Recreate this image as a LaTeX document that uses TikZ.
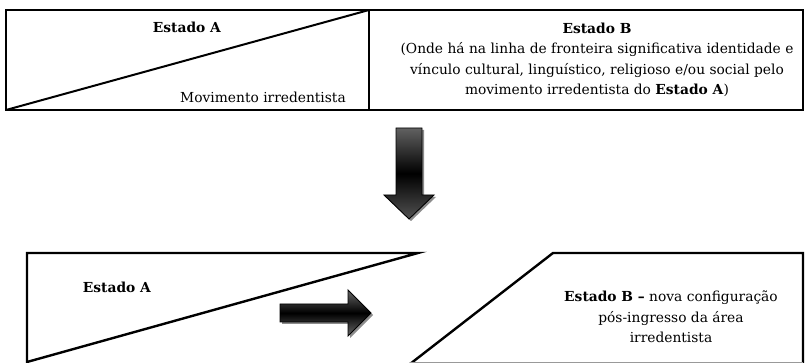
\documentclass[tikz,border=0pt]{standalone}
\usepackage{fontspec}
\setmainfont{DejaVu Serif}
\usepackage{tikz}
\usetikzlibrary{shadows}

\begin{document}
\begin{tikzpicture}[x=1pt,y=-1pt,
		framebox/.style={line width=2.6pt,line join=miter},
		txt/.style={font=\fontsize{13.8}{20.5}\selectfont,align=center,inner sep=0pt},
		fatarrow/.style={draw=black,line width=0.9pt,line join=miter,
			drop shadow={shadow xshift=2pt,shadow yshift=-2pt,fill=black!45,opacity=1}},
	]
	\useasboundingbox (0,0) rectangle (806,363);
	% quadro de cima
	\draw[framebox] (6,10) rectangle (803,110);
	\draw[framebox] (369,10) -- (369,110);
	\draw[line width=2pt] (6,110) -- (369,10);
	\node[txt,anchor=base] (estA) at (187,33) {\textbf{Estado A}};
	\node[txt,anchor=base] (movim) at (263,103) {Movimento irredentista};
	\node[txt,anchor=center] (estB) at (597,60) {\textbf{Estado B}\\
		(Onde há na linha de fronteira significativa identidade e\\
		vínculo cultural, linguístico, religioso e/ou social pelo\\
		movimento irredentista do \textbf{Estado A})};
	% seta para baixo
	\path[fatarrow,top color=black!62,bottom color=black!68,middle color=black]
		(396,128) -- (422,128) -- (422,195) -- (434,195) -- (409,219)
		-- (384,195) -- (396,195) -- cycle;
	% quadro de baixo
	\draw[line width=2.4pt,line join=miter] (27,253) -- (418,253) -- (27,362) -- cycle;
	\draw[line width=2.4pt,line join=miter] (410,364) -- (553,253) -- (803,253) -- (803,364);
	\draw[line width=0.6pt,black!40] (410,362.5) -- (803,362.5);
	\node[txt,anchor=base] (estA2) at (117,293) {\textbf{Estado A}};
	\node[txt,anchor=center] (estB2) at (671,317) {\textbf{Estado B --} nova configuração\\
		pós-ingresso da área\\
		irredentista};
	% seta para a direita
	\path[fatarrow,top color=black!60,bottom color=black!60,middle color=black]
		(280,304) -- (348,304) -- (348,290) -- (371,313) -- (348,336)
		-- (348,322) -- (280,322) -- cycle;
\end{tikzpicture}
\end{document}
